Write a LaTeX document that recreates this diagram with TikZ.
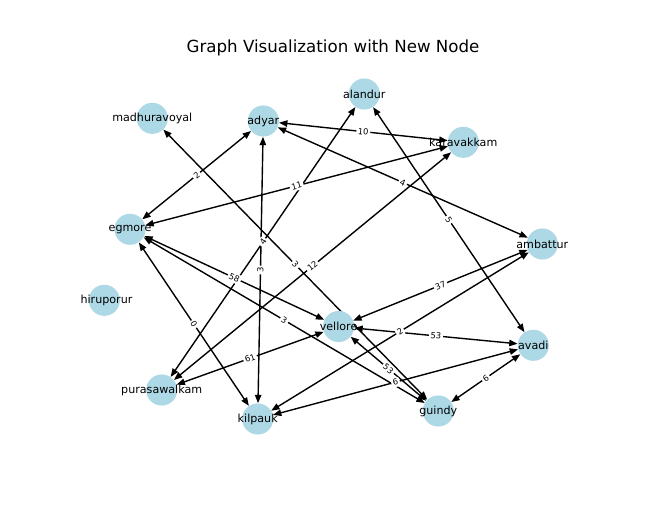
\documentclass[tikz,border=0pt]{standalone}
\usepackage{fontspec}
\setmainfont{DejaVu Sans}
\usetikzlibrary{arrows.meta}
\pgfdeclarelayer{background}
\pgfsetlayers{background,main}
\definecolor{lblue}{HTML}{ADD8E6}
\tikzset{
  vert/.style={circle, fill=lblue, minimum size=22.4pt, inner sep=0pt},
  vtxt/.style={font=\fontsize{8}{9}\selectfont, inner sep=0pt, text=black},
  edge/.style={line width=1pt, {Triangle[length=6pt,width=4.6pt]}-{Triangle[length=6pt,width=4.6pt]}},
  elab/.style={font=\fontsize{6}{7}\selectfont, fill=white, rounded corners=1.5pt, inner sep=1.2pt, sloped, midway},
}
\begin{document}
\begin{tikzpicture}[x=0.72pt, y=-0.72pt]
\useasboundingbox (0,0) rectangle (650,509);
\node[anchor=base, font=\fontsize{12}{14}\selectfont] (title) at (333,52) {Graph Visualization with New Node};
% vertices
\node[vert] (alandur) at (364.3,94) {};
\node[vert] (madhuravoyal) at (152.3,118.3) {};
\node[vert] (adyar) at (263.3,121) {};
\node[vert] (karavakkam) at (463.3,142.3) {};
\node[vert] (egmore) at (130,229.3) {};
\node[vert] (ambattur) at (542.3,244) {};
\node[vert] (thiruporur) at (104.3,300.3) {};
\node[vert] (vellore) at (338.6,326.5) {};
\node[vert] (avadi) at (533.3,345.3) {};
\node[vert] (purasawalkam) at (161.7,390) {};
\node[vert] (kilpauk) at (257.7,419) {};
\node[vert] (guindy) at (438.3,411) {};
% edges
\begin{pgfonlayer}{background}
\draw[edge] (egmore) -- (adyar);
\draw[edge] (adyar) -- (karavakkam);
\draw[edge] (adyar) -- (ambattur);
\draw[edge] (alandur) -- (avadi);
\draw[edge] (egmore) -- (karavakkam);
\draw[edge] (alandur) -- (purasawalkam);
\draw[edge] (adyar) -- (kilpauk);
\draw[edge] (karavakkam) -- (purasawalkam);
\draw[edge] (madhuravoyal) -- (guindy);
\draw[edge] (egmore) -- (vellore);
\draw[edge] (egmore) -- (guindy);
\draw[edge] (egmore) -- (kilpauk);
\draw[edge] (purasawalkam) -- (vellore);
\draw[edge] (vellore) -- (ambattur);
\draw[edge] (kilpauk) -- (ambattur);
\draw[edge] (vellore) -- (avadi);
\draw[edge] (vellore) -- (guindy);
\draw[edge] (kilpauk) -- (avadi);
\draw[edge] (guindy) -- (avadi);
\end{pgfonlayer}
% edge labels
\path (egmore) -- (adyar) node[elab] (l1) {2};
\path (adyar) -- (karavakkam) node[elab] (l2) {10};
\path (adyar) -- (ambattur) node[elab] (l3) {4};
\path (alandur) -- (avadi) node[elab] (l4) {5};
\path (egmore) -- (karavakkam) node[elab] (l5) {11};
\path (alandur) -- (purasawalkam) node[elab] (l6) {4};
\path (adyar) -- (kilpauk) node[elab] (l7) {3};
\path (karavakkam) -- (purasawalkam) node[elab] (l8) {12};
\path (madhuravoyal) -- (guindy) node[elab] (l9) {3};
\path (egmore) -- (vellore) node[elab] (l10) {58};
\path (egmore) -- (guindy) node[elab] (l11) {3};
\path (egmore) -- (kilpauk) node[elab] (l12) {0};
\path (purasawalkam) -- (vellore) node[elab] (l13) {61};
\path (vellore) -- (ambattur) node[elab] (l14) {37};
\path (kilpauk) -- (ambattur) node[elab] (l15) {2};
\path (vellore) -- (avadi) node[elab] (l16) {53};
\path (vellore) -- (guindy) node[elab] (l17) {53};
\path (kilpauk) -- (avadi) node[elab] (l18) {6};
\path (guindy) -- (avadi) node[elab] (l19) {6};
% vertex labels
\node[vtxt] (t1) at (alandur) {alandur};
\node[vtxt] (t2) at (madhuravoyal) {madhuravoyal};
\node[vtxt] (t3) at (adyar) {adyar};
\node[vtxt] (t4) at (karavakkam) {karavakkam};
\node[vtxt] (t5) at (egmore) {egmore};
\node[vtxt] (t6) at (ambattur) {ambattur};
\begin{scope}
\clip (81.25,0) rectangle (650,509);
\node[vtxt] (t7) at (thiruporur) {thiruporur};
\end{scope}
\node[vtxt] (t8) at (vellore) {vellore};
\node[vtxt] (t9) at (avadi) {avadi};
\node[vtxt] (t10) at (purasawalkam) {purasawalkam};
\node[vtxt] (t11) at (kilpauk) {kilpauk};
\node[vtxt] (t12) at (guindy) {guindy};
\end{tikzpicture}
\end{document}
